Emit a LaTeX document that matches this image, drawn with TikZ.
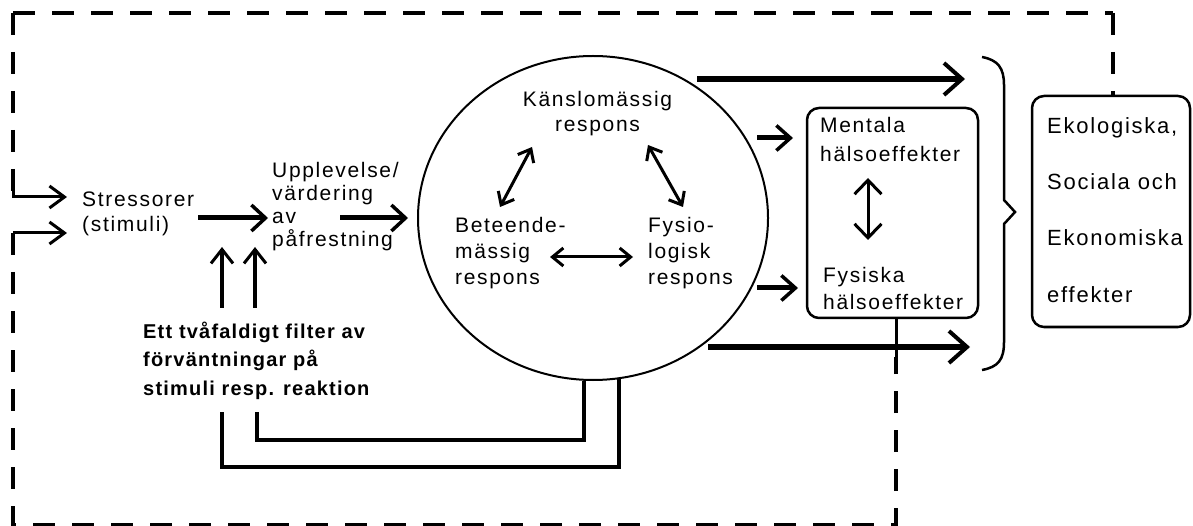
\documentclass[tikz,border=0pt]{standalone}
\usepackage{fontspec}
\setmainfont{Liberation Sans}[LetterSpace=8]
\usetikzlibrary{arrows.meta,shapes.geometric}
\begin{document}
\begin{tikzpicture}[x=1pt,y=-1pt,
  txt/.style={inner sep=0pt, align=left, anchor=base west},
  frameline/.style={line width=4pt, dash pattern=on 22pt off 17pt},
  inarrow/.style={line width=3pt, -{Straight Barb[length=15pt,width=22pt,line width=3pt]}},
  midarrow/.style={line width=5pt, -{Straight Barb[length=14pt,width=26pt,line width=3.5pt]}},
  bigarrow/.style={line width=6pt, -{Straight Barb[length=18pt,width=32pt,line width=4pt]}},
  smallarrow/.style={line width=5pt, -{Straight Barb[length=14pt,width=25pt,line width=3.5pt]}},
  duo/.style={line width=3pt, {Straight Barb[length=11pt,width=18pt,line width=3pt]}-{Straight Barb[length=11pt,width=18pt,line width=3pt]}},
  duobig/.style={line width=3pt, {Straight Barb[length=14pt,width=27pt,line width=3pt]}-{Straight Barb[length=14pt,width=27pt,line width=3pt]}},
  uparrow/.style={line width=3.5pt, -{Straight Barb[length=14pt,width=22pt,line width=3pt]}},
  feedback/.style={line width=4pt},
  roundbox/.style={draw, rounded corners=12pt, line width=2.5pt, inner sep=0pt}
]
\useasboundingbox (0,0) rectangle (1193,526);

% texts (anchor = baseline of the last line)
\node[txt, font=\fontsize{21}{25}\selectfont] (stress) at (82,232) {Stressorer\\(stimuli)};
\node[txt, font=\fontsize{21}{23}\selectfont] (upp) at (272,247) {Upplevelse/\\värdering\\av\\påfrestning};
\node[txt, font=\bfseries\fontsize{20}{28.5}\selectfont\addfontfeature{LetterSpace=6}] (filt) at (143,395) {Ett tvåfaldigt filter av\\förväntningar på\\stimuli resp. reaktion};

% circle
\node[draw, ellipse, line width=2pt, minimum width=350pt, minimum height=324pt, inner sep=0pt] (circ) at (593,218) {};
\node[inner sep=0pt, align=center, anchor=base, font=\fontsize{21}{25}\selectfont] (kans) at (597.5,132) {Känslomässig\\respons};
\node[txt, font=\fontsize{21}{26}\selectfont] (bet) at (455,285) {Beteende-\\mässig\\respons};
\node[txt, font=\fontsize{21}{26}\selectfont] (fys) at (648,285) {Fysio-\\logisk\\respons};

% health box
\node[roundbox, minimum width=171pt, minimum height=210pt] (hbox) at (892.5,213) {};
\node[txt, font=\fontsize{21}{29}\selectfont] (ment) at (820,162) {Mentala\\hälsoeffekter};
\node[txt, font=\fontsize{21}{28}\selectfont] (fysh) at (823,310) {Fysiska\\hälsoeffekter};

% effects box
\node[roundbox, minimum width=158pt, minimum height=231pt] (eko) at (1111,211.5) {};
\node[txt, font=\fontsize{22}{56}\selectfont] (ekot) at (1047,302) {Ekologiska,\\Sociala och\\Ekonomiska\\effekter};

% coordinates
\coordinate (corner) at (13,13);
\coordinate (cornerR) at (1113,13);
\coordinate (inA0) at (13,174);
\coordinate (inA) at (13,197);
\coordinate (inB) at (13,233);
\coordinate (s1) at (198,218);
\coordinate (s2) at (268,218);
\coordinate (u1) at (340,218);
\coordinate (u2) at (408,218);
\coordinate (f1) at (222,412);
\coordinate (f2) at (257,412);
\coordinate (a1) at (222,308);
\coordinate (a2) at (255,308);
\coordinate (k1) at (532,147);
\coordinate (b1) at (500,207);
\coordinate (k2) at (648,145);
\coordinate (y1) at (683,207);
\coordinate (b2) at (550,257);
\coordinate (y2) at (633,257);
\coordinate (t1) at (697,79);
\coordinate (t2) at (965,79);
\coordinate (w1) at (708,347);
\coordinate (w2) at (970,347);
\coordinate (m1) at (757,138);
\coordinate (m2) at (793,138);
\coordinate (p1) at (757,288);
\coordinate (p2) at (798,288);
\coordinate (v1) at (868,178);
\coordinate (v2) at (868,240);
\coordinate (cross) at (896,357);

% dashed frame
\draw[frameline] (corner) -- (inA);
\draw[frameline] (corner) -- (cornerR);
\draw[frameline] (cornerR) -- (eko.north -| cornerR);
\draw[frameline] (inB) -- (13,525) -- (896,525) -- (cross);
\draw[line width=3pt] (hbox.south -| cross) -- (cross);

% input arrows
\draw[inarrow] (inA0) -- (inA) -- (67,197);
\draw[inarrow] (inB) -- (67,233);

% main flow
\draw[midarrow] (s1) -- (s2);
\draw[midarrow] (u1) -- (u2);
\draw[uparrow] (a1) -- (222,247);
\draw[uparrow] (a2) -- (255,247);

% feedback
\draw[feedback] (f1) -- (222,467) -| (circ.-81);
\draw[feedback] (f2) -- (257,440) -| (circ.-93.5);

% inner arrows
\draw[duo] (k1) -- (b1);
\draw[duo] (k2) -- (y1);
\draw[duo] (b2) -- (y2);

% outputs
\draw[bigarrow] (t1) -- (t2);
\draw[bigarrow] (w1) -- (w2);
\draw[smallarrow] (m1) -- (m2);
\draw[smallarrow] (p1) -- (p2);
\draw[duobig] (v1) -- (v2);

% brace
\draw[line width=2.5pt] (982,57) .. controls (998,60) and (1004,68) .. (1004,85)
  -- (1004,200) -- (1015,212) -- (1004,224) -- (1004,342)
  .. controls (1004,360) and (998,367) .. (982,370);
\end{tikzpicture}
\end{document}
